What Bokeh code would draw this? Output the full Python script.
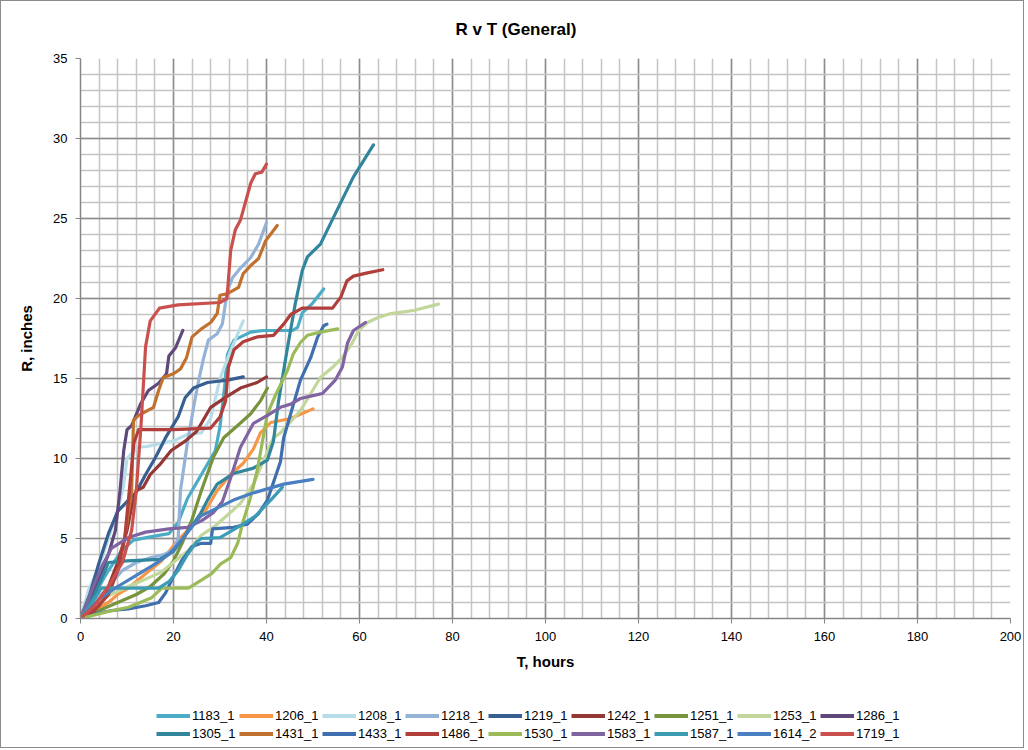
from bokeh.plotting import figure
from bokeh.layouts import column
from bokeh.models import (Range1d, SingleIntervalTicker, Legend, LegendItem, Title)
from bokeh.embed import file_html
from bokeh.resources import INLINE

# ---------------- data (T hours, R inches) ----------------
names = ["1183_1", "1206_1", "1208_1", "1218_1", "1219_1", "1242_1", "1251_1", "1253_1", "1286_1",
         "1305_1", "1431_1", "1433_1", "1486_1", "1530_1", "1583_1", "1587_1", "1614_2", "1719_1"]

colors = ["#4BACC6", "#F79646", "#B7DEE8", "#95B3D7", "#375F92", "#953735", "#77933C", "#C3D69B", "#5F497A",
          "#31859C", "#C0712F", "#3F6FAE", "#B03E3B", "#9BBB59", "#8064A2", "#3B9CB4", "#4A7FC1", "#C9504C"]

t_1183 = [0, 3, 6, 9, 11.4, 15, 19, 21, 23, 25, 27, 29, 30, 31, 31.6, 33, 36.6, 39.4, 45.6, 46.7, 47.7, 49.9, 52.3]
r_1183 = [0, 1.5, 3, 4.3, 4.9, 5.1, 5.3, 6.0, 7.5, 8.5, 9.5, 10.5, 12, 14.5, 16.5, 17.4, 17.9, 18, 18, 18.2, 19.1, 19.7, 20.6]

t_1206 = [0, 3, 6, 8, 10.3, 14, 17.4, 21, 24.7, 27, 29.4, 32.3, 35, 37.2, 38.7, 40.9, 45.2, 50]
r_1206 = [0, 0.5, 1, 1.5, 1.9, 2.8, 3.6, 4.9, 6, 6.8, 8, 9, 9.7, 10.6, 11.6, 12.25, 12.5, 13.1]

t_1208 = [0, 1.7, 3.9, 6, 8, 9.2, 10, 12.2, 14.3, 20, 23, 26, 28, 30, 32.3, 35]
r_1208 = [0, 1.75, 3.2, 5, 6.8, 8.2, 10, 10.7, 10.75, 11.1, 11.5, 11.6, 12.5, 15, 16.75, 18.6]

t_1218 = [0, 3, 6, 9, 12, 15, 18, 20, 21, 21.5, 23, 24.5, 25.5, 26.5, 27.5, 29.4, 30.5, 31.6, 32.7, 34.4, 36.6, 38.3, 40]
r_1218 = [0, 1, 2, 3, 3.5, 3.8, 4, 4.3, 5, 8, 11, 13.5, 15, 16.3, 17.4, 17.8, 18.4, 20.5, 21.3, 21.9, 22.56, 23.4, 24.75]

t_1219 = [0, 2, 4, 6, 8, 10, 12, 14, 16, 18.3, 21, 22.5, 24.3, 27.3, 31.6, 35]
r_1219 = [0, 1.5, 3.5, 5.3, 6.7, 7.3, 7.9, 9, 10, 11.3, 12.6, 13.8, 14.4, 14.75, 14.9, 15.1]

t_1242 = [0, 4, 6, 8, 10, 11, 12, 13.5, 15, 17, 19.5, 22.6, 25, 28, 31.6, 34.4, 38, 40]
r_1242 = [0, 0.8, 2, 3.5, 5.5, 7, 8, 8.2, 9, 9.6, 10.5, 11.1, 11.7, 13.2, 13.9, 14.4, 14.75, 15.1]

t_1251 = [0, 4, 8, 12, 15, 18, 20, 22, 24, 26, 28.6, 30.8, 33.8, 36.6, 38.7, 40.2]
r_1251 = [0, 0.5, 1, 1.5, 2, 2.8, 3.6, 4.8, 6.2, 8, 10.1, 11.3, 12.06, 12.8, 13.6, 14.4]

t_1253 = [0, 3.9, 8, 12, 17.4, 23.2, 26, 29, 32.9, 34.4, 37.2, 39.4, 41.5, 43, 45.2, 47.3, 49.9, 51.6,
          54.2, 56.3, 58.5, 59.8, 61.7, 63.9, 66.7, 71.6, 77]
r_1253 = [0, 1.1, 1.7, 2.2, 2.9, 4.25, 5.2, 5.8, 6.8, 7.2, 8.4, 9.9, 11.3, 11.6, 12.3, 13, 14.25, 15.06,
          15.7, 16.3, 17.25, 18, 18.5, 18.8, 19.06, 19.25, 19.65]

t_1286 = [0, 2, 4, 6, 7.5, 8.5, 9.3, 10, 11, 12.9, 14.6, 16.8, 18.5, 19, 20.4, 22]
r_1286 = [0, 1, 2.5, 4, 5.5, 8, 10.5, 11.8, 12.06, 13.4, 14.25, 14.7, 15.3, 16.4, 16.9, 18]

t_1305 = [0, 3, 5, 6, 10, 17, 20, 22, 24, 25.8, 27.5, 29.4, 32.9, 37.2, 40.2, 41.5, 42.6, 43.4, 44.5,
          46.2, 47.7, 48.8, 51.6, 55.3, 58.7, 63]
r_1305 = [0, 1.5, 2.8, 3.5, 3.6, 3.7, 4.2, 5, 5.8, 6.56, 7.5, 8.4, 9.06, 9.4, 9.9, 11.1, 13.6, 15, 16.9,
          19.7, 21.75, 22.6, 23.4, 25.6, 27.6, 29.6]

t_1431 = [0, 3, 6, 8, 9.5, 10.5, 11, 11.4, 12.5, 15.7, 16.8, 17.8, 20, 21.5, 22.8, 24, 26, 28, 29.4, 30,
          31.6, 34, 35, 36.6, 38.3, 39.8, 42.3]
r_1431 = [0, 0.5, 1.5, 3, 5, 7, 8, 12.4, 12.7, 13.2, 14.25, 15.06, 15.3, 15.6, 16.3, 17.6, 18.1, 18.5, 19.06, 20.2,
          20.3, 20.7, 21.56, 22.06, 22.5, 23.6, 24.56]

t_1433 = [0, 3, 6.7, 10.3, 14, 16.8, 18.3, 19.6, 21.7, 24, 26, 28, 28.4, 32.9, 35.9, 38.3, 40.2, 40.9, 43,
          43.7, 45.2, 47.3, 49.5, 51, 52.3, 53]
r_1433 = [0, 0.3, 0.5, 0.6, 0.8, 1, 1.6, 2.4, 3.6, 4.5, 4.7, 4.7, 5.6, 5.7, 5.9, 6.56, 7.4, 8, 9.8,
          11.3, 12.8, 14.9, 16.3, 17.6, 18.3, 18.4]

t_1486 = [0, 3, 6, 8, 9.5, 10.5, 11.5, 12.5, 20, 28, 30, 31.2, 31.8, 33, 35, 38, 41.5, 43.7, 45.2, 47.7,
          54.2, 56, 57.3, 58.7, 61.7, 65]
r_1486 = [0, 0.5, 1.5, 3, 5, 8, 11, 11.8, 11.8, 11.9, 12.6, 13.6, 15.7, 16.8, 17.3, 17.6, 17.7, 18.4, 19, 19.4,
          19.4, 20.1, 21.1, 21.4, 21.6, 21.8]

t_1530 = [0, 5.4, 10.3, 15.3, 17.5, 23.2, 26, 28.2, 30.1, 32.3, 33.8, 35, 36.5, 38, 40.2, 42, 43, 44.5,
          45.8, 47.3, 48.8, 51.6, 55.3]
r_1530 = [0, 0.4, 0.7, 1.3, 1.9, 1.9, 2.4, 2.8, 3.4, 3.8, 4.7, 6.1, 7.5, 9.25, 12.8, 14, 14.6, 15.5,
          16.56, 17.25, 17.7, 17.9, 18.1]

t_1583 = [0, 2.4, 4.5, 6.7, 10.3, 14, 19, 23, 26, 28.5, 30.5, 32.3, 34.4, 37.2, 40.2, 43, 45.2, 47.3,
          49.5, 52, 54.8, 56.3, 57.4, 58.7, 61.3]
r_1583 = [0, 1.75, 3.2, 4.4, 5.06, 5.4, 5.6, 5.7, 6.1, 6.6, 7.3, 8.8, 10.7, 12.2, 12.7, 13.2, 13.4, 13.75,
          13.9, 14.06, 14.9, 15.7, 17.2, 18, 18.5]

t_1587 = [0, 2, 4.5, 10, 16.8, 19, 21, 23, 25, 26, 30, 34.4, 37.6, 40.9, 43.4]
r_1587 = [0, 0.8, 1.9, 1.9, 1.9, 2.3, 3, 4, 4.8, 5, 5.06, 5.8, 6.4, 7.4, 8.2]

t_1614 = [0, 4, 8, 12, 16, 19, 22, 25.8, 29.4, 32.9, 36.6, 40.2, 43.7, 50]
r_1614 = [0, 1.2, 2, 2.7, 3.4, 4, 5, 6.4, 6.9, 7.4, 7.8, 8.1, 8.4, 8.7]

t_1719 = [0, 3, 6, 9, 11, 12, 13, 14, 15, 17, 21, 30, 31.5, 32.3, 33.3, 34.4, 36.6, 37.6, 39, 40]
r_1719 = [0, 0.8, 2, 3.5, 5.5, 8, 12, 17, 18.6, 19.4, 19.6, 19.75, 20, 23, 24.3, 24.9, 27.2, 27.8, 27.9, 28.4]

series_t = [t_1183, t_1206, t_1208, t_1218, t_1219, t_1242, t_1251, t_1253, t_1286,
            t_1305, t_1431, t_1433, t_1486, t_1530, t_1583, t_1587, t_1614, t_1719]
series_r = [r_1183, r_1206, r_1208, r_1218, r_1219, r_1242, r_1251, r_1253, r_1286,
            r_1305, r_1431, r_1433, r_1486, r_1530, r_1583, r_1587, r_1614, r_1719]

title_text = "R v T (General)"
x_label = "T, hours"
y_label = "R, inches"

FONT = "Liberation Sans"

# ---------------- main chart ----------------
p = figure(width=1022, height=700, output_backend="svg", toolbar_location=None,
           x_range=Range1d(0, 200), y_range=Range1d(0, 35),
           min_border_left=79, min_border_right=13, min_border_top=57, min_border_bottom=83)

p.outline_line_color = None
p.background_fill_color = "white"
p.border_fill_color = "white"

p.xaxis.ticker = SingleIntervalTicker(interval=20, num_minor_ticks=5)
p.yaxis.ticker = SingleIntervalTicker(interval=5, num_minor_ticks=5)

for g in (p.xgrid, p.ygrid):
    g.grid_line_color = "#8c8c8c"
    g.grid_line_width = 1.5
    g.minor_grid_line_color = "#c4c4c4"
    g.minor_grid_line_width = 1.5

for ax in (p.xaxis, p.yaxis):
    ax.axis_line_color = "#868686"
    ax.axis_line_width = 1.5
    ax.major_tick_line_color = "#868686"
    ax.major_tick_out = 5
    ax.major_tick_in = 0
    ax.minor_tick_out = 0
    ax.minor_tick_in = 0
    ax.major_label_text_font = FONT
    ax.major_label_text_font_size = "13px"
    ax.major_label_text_color = "#000000"
    ax.axis_label_text_font = FONT
    ax.axis_label_text_font_size = "15px"
    ax.axis_label_text_font_style = "bold"
    ax.axis_label_text_color = "#000000"

p.xaxis.axis_label = x_label
p.yaxis.axis_label = y_label
p.xaxis.major_label_standoff = 8
p.yaxis.major_label_standoff = 8
p.xaxis.axis_label_standoff = 9
p.yaxis.axis_label_standoff = 15

# spacer, then the chart title (centred over the whole chart)
p.add_layout(Title(text=" ", text_font_size="3px"), "above")
p.add_layout(Title(text=title_text, align="left", offset=375, text_font=FONT,
                   text_font_size="17px", text_font_style="bold", text_color="#000000"), "above")

for name, col, tt, rr in zip(names, colors, series_t, series_r):
    p.line(tt, rr, line_color=col, line_width=3.2, line_join="round", line_cap="round")

# ---------------- legend strip ----------------
q = figure(width=1022, height=46, output_backend="svg", toolbar_location=None,
           x_axis_type=None, y_axis_type=None, x_range=Range1d(0, 1), y_range=Range1d(0, 1),
           min_border=0, min_border_left=0, min_border_right=0, min_border_top=0, min_border_bottom=0)
q.outline_line_color = None
q.background_fill_color = "white"
q.border_fill_color = "white"

# legend-only renderers: a point outside the visible range, so only the legend swatch shows
items = []
for name, col in zip(names, colors):
    r = q.line([-5, -4], [-5, -4], line_color=col, line_width=4)
    items.append(LegendItem(label=name, renderers=[r]))

legend = Legend(items=items, orientation="horizontal", ncols=9, location=(76, 6),
                label_text_font=FONT, label_text_font_size="13px", label_text_color="#000000",
                glyph_width=34, glyph_height=15, label_standoff=2, spacing=3, label_width=44,
                label_height=15, border_line_color=None, background_fill_alpha=0,
                margin=0, padding=0)
q.add_layout(legend, "center")

layout = column(p, q, spacing=0, styles={"border": "1px solid #8c8c8c"})

open("out.html", "w").write(file_html(layout, INLINE))
